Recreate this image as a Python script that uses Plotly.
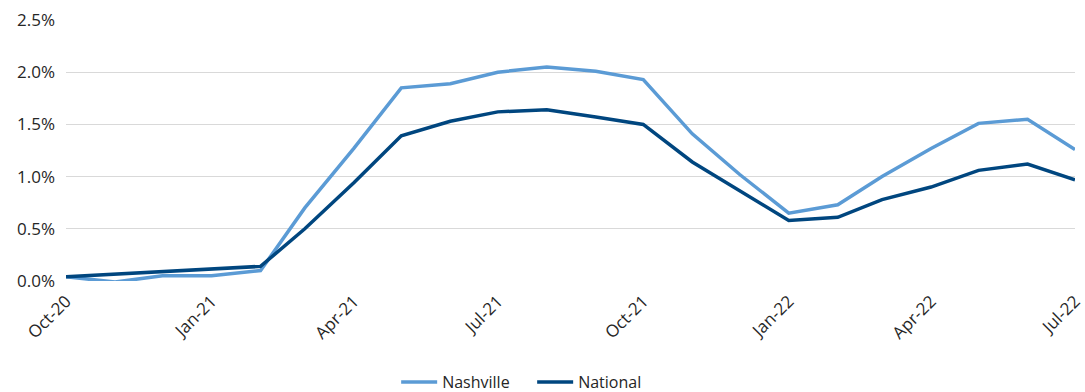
import plotly.graph_objects as go

months = [
    "2020-10-01", "2020-11-01", "2020-12-01", "2021-01-01", "2021-02-01", "2021-03-01",
    "2021-04-01", "2021-05-01", "2021-06-01", "2021-07-01", "2021-08-01", "2021-09-01",
    "2021-10-01", "2021-11-01", "2021-12-01", "2022-01-01", "2022-02-01", "2022-03-01",
    "2022-04-01", "2022-05-01", "2022-06-01", "2022-07-01",
]

nashville = [0.04, -0.01, 0.05, 0.05, 0.10, 0.70, 1.27, 1.85, 1.89, 2.00, 2.05, 2.01,
             1.93, 1.41, 1.02, 0.65, 0.73, 1.00, 1.27, 1.51, 1.55, 1.26]
national = [0.04, 0.065, 0.09, 0.11, 0.14, 0.50, 0.94, 1.39, 1.53, 1.62, 1.64, 1.57,
            1.50, 1.14, 0.86, 0.58, 0.61, 0.78, 0.90, 1.06, 1.12, 0.97]

# percent values -> fractions for % tick formatting
nash_frac = [v / 100 for v in nashville]
nat_frac = [v / 100 for v in national]

fig = go.Figure()
fig.add_trace(go.Scatter(x=months, y=nash_frac, mode="lines", name="Nashville",
                         line=dict(color="#5B9BD5", width=3.5)))
fig.add_trace(go.Scatter(x=months, y=nat_frac, mode="lines", name="National",
                         line=dict(color="#00467F", width=3.5)))

font_family = "'Open Sans', sans-serif"
text_color = "#262626"

fig.update_layout(
    width=1085, height=392,
    margin=dict(l=66, r=10, t=20, b=111, autoexpand=False),
    paper_bgcolor="white", plot_bgcolor="white",
    font=dict(family=font_family, size=16, color=text_color),
    showlegend=True,
    legend=dict(orientation="h", x=0.462, xanchor="center",
                yref="container", y=0.025, yanchor="middle",
                entrywidth=85, entrywidthmode="pixels",
                font=dict(size=16, color=text_color), itemwidth=36),
    xaxis=dict(
        range=["2020-10-01", "2022-07-01"], automargin=False,
        dtick="M3", tick0="2020-10-01", tickformat="%b-%y", tickangle=-45,
        showgrid=False, zeroline=False, showline=False, ticks="",
        ticklabelstandoff=6,
        tickfont=dict(size=17, color=text_color),
    ),
    yaxis=dict(
        range=[0, 0.025], dtick=0.005, tickformat=".1%", automargin=False,
        showgrid=True, gridcolor="#D9D9D9", gridwidth=1,
        zeroline=False, showline=False, ticks="", ticklabelstandoff=10,
        tickfont=dict(size=17, color=text_color),
    ),
)

fig.write_html("out.html")
